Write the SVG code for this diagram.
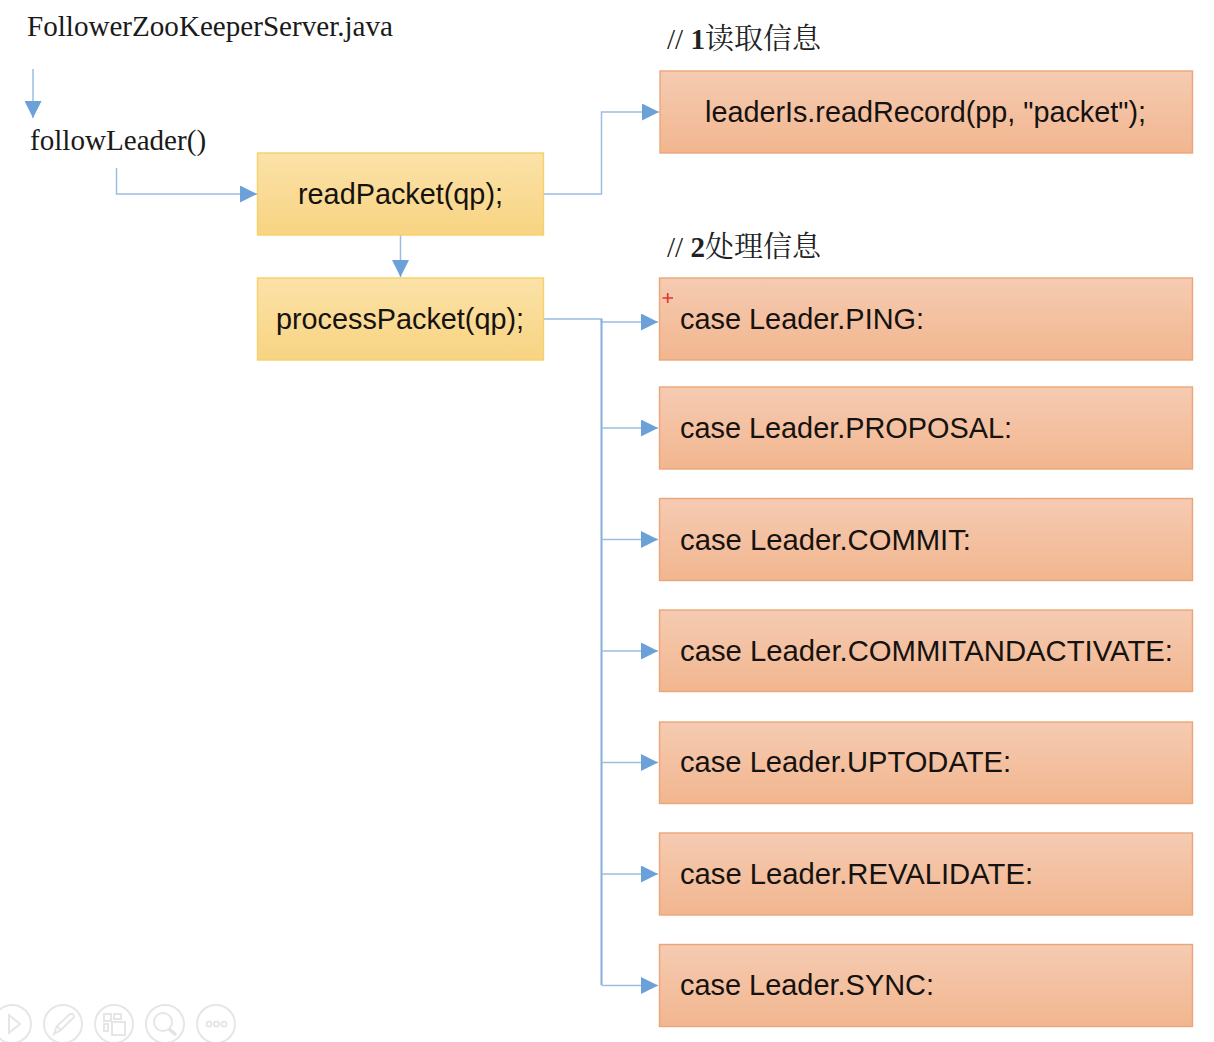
<svg xmlns="http://www.w3.org/2000/svg" width="1214" height="1042" viewBox="0 0 1214 1042">
<style>
.o{fill:url(#og);stroke:#eba678;stroke-width:1.4}
.y{fill:url(#yg);stroke:#f6d06a;stroke-width:1.4}
.t{font-family:"Liberation Sans",Arial,sans-serif;font-size:29px;fill:#151210}
.s{font-family:"Liberation Serif","Noto Sans CJK SC",serif;font-size:29.1px;fill:#1a1a1a}
.h{font-family:"Liberation Serif","Noto Serif CJK SC","Noto Sans CJK SC",serif;font-size:29px;fill:#222}
.c{fill:none;stroke:#9bbde2;stroke-width:1.5}
.tr{fill:none;stroke:#86aedb;stroke-width:2}
.i{fill:none;stroke:#e6e6e6;stroke-width:2}
</style>
<defs>
<linearGradient id="og" x1="0" y1="0" x2="0" y2="1"><stop offset="0" stop-color="#f5cbb2"/><stop offset="1" stop-color="#f2b68f"/></linearGradient>
<linearGradient id="yg" x1="0" y1="0" x2="0" y2="1"><stop offset="0" stop-color="#fbe2a8"/><stop offset="1" stop-color="#f8d482"/></linearGradient>
<marker id="a" markerUnits="userSpaceOnUse" markerWidth="17" markerHeight="17" refX="17" refY="8.5" orient="auto"><path d="M0 0L17 8.5L0 17Z" fill="#6ba0d8"/></marker>
</defs>
<rect width="1214" height="1042" fill="#fff"/>
<g id="connectors">
<path class="c" d="M33 69V118" marker-end="url(#a)"/>
<path class="c" d="M116.500 168V194H257" marker-end="url(#a)"/>
<path class="c" d="M400.500 235V277" marker-end="url(#a)"/>
<path class="c" d="M543 194H601.500V112H659" marker-end="url(#a)"/>
<path class="c" d="M543 319H601.500V322H658" marker-end="url(#a)"/>
<path class="tr" d="M601.500 319V985"/>
<path class="c" d="M601.500 428H658" marker-end="url(#a)"/>
<path class="c" d="M601.500 539.500H658" marker-end="url(#a)"/>
<path class="c" d="M601.500 651H658" marker-end="url(#a)"/>
<path class="c" d="M601.500 762.500H658" marker-end="url(#a)"/>
<path class="c" d="M601.500 874H658" marker-end="url(#a)"/>
<path class="c" d="M601.500 985.500H658" marker-end="url(#a)"/>
</g>
<g id="title"><text class="s" x="27" y="35.500">FollowerZooKeeperServer.java</text></g>
<g id="followLeader"><text class="s" x="30" y="149.500">followLeader()</text></g>
<g id="readPacket"><rect class="y" x="257.500" y="153" width="286" height="82"/><text class="t" x="298" y="204" textLength="205" lengthAdjust="spacingAndGlyphs">readPacket(qp);</text></g>
<g id="processPacket"><rect class="y" x="257.500" y="278" width="286" height="82"/><text class="t" x="276" y="329" textLength="248" lengthAdjust="spacingAndGlyphs">processPacket(qp);</text></g>
<g id="label1"><text class="h" x="667" y="48.500">// <tspan font-weight="bold">1</tspan>读取信息</text></g>
<g id="label2"><text class="h" x="667" y="257">// <tspan font-weight="bold">2</tspan>处理信息</text></g>
<g id="readRecord"><rect class="o" x="660" y="71" width="532.500" height="82"/><text class="t" x="705" y="122" textLength="441" lengthAdjust="spacingAndGlyphs">leaderIs.readRecord(pp, "packet");</text></g>
<g id="ping"><rect class="o" x="659.500" y="278" width="533" height="82"/><text class="t" x="680" y="329" textLength="244" lengthAdjust="spacingAndGlyphs">case Leader.PING:</text><path d="M662.500 298H673M667.700 293V303" stroke="#e8332e" stroke-width="1.700" fill="none"/></g>
<g id="proposal"><rect class="o" x="659.500" y="387" width="533" height="82"/><text class="t" x="680" y="438" textLength="332" lengthAdjust="spacingAndGlyphs">case Leader.PROPOSAL:</text></g>
<g id="commit"><rect class="o" x="659.500" y="498.500" width="533" height="82"/><text class="t" x="680" y="550" textLength="291" lengthAdjust="spacingAndGlyphs">case Leader.COMMIT:</text></g>
<g id="commitandactivate"><rect class="o" x="659.500" y="610" width="533" height="81.500"/><text class="t" x="680" y="661" textLength="493" lengthAdjust="spacingAndGlyphs">case Leader.COMMITANDACTIVATE:</text></g>
<g id="uptodate"><rect class="o" x="659.500" y="722" width="533" height="81.500"/><text class="t" x="680" y="772" textLength="331" lengthAdjust="spacingAndGlyphs">case Leader.UPTODATE:</text></g>
<g id="revalidate"><rect class="o" x="659.500" y="833" width="533" height="82"/><text class="t" x="680" y="884" textLength="353" lengthAdjust="spacingAndGlyphs">case Leader.REVALIDATE:</text></g>
<g id="sync"><rect class="o" x="659.500" y="944.500" width="533" height="82"/><text class="t" x="680" y="995" textLength="254" lengthAdjust="spacingAndGlyphs">case Leader.SYNC:</text></g>
<g id="toolbar">
<circle class="i" cx="12" cy="1024" r="19"/><path class="i" d="M9 1015L20 1024L9 1033Z"/>
<circle class="i" cx="63" cy="1024" r="19"/><path class="i" d="M54 1034L57 1026L70 1014Q74 1013 74 1017L61 1030ZM57 1026L61 1030"/>
<circle class="i" cx="114" cy="1024" r="19"/><path class="i" d="M104 1014H111V1021H104ZM114 1014H121V1019H114ZM104 1024H108V1031H104ZM112 1022H125V1035H112Z"/>
<circle class="i" cx="165" cy="1024" r="19"/><circle class="i" cx="163" cy="1022" r="9"/><path d="M169 1029L176 1035" stroke="#e3e3e3" stroke-width="3.500"/>
<circle class="i" cx="216" cy="1024" r="19"/><circle class="i" cx="209" cy="1024" r="2.500"/><circle class="i" cx="216.500" cy="1024" r="2.500"/><circle class="i" cx="224" cy="1024" r="2.500"/>
</g>
</svg>
